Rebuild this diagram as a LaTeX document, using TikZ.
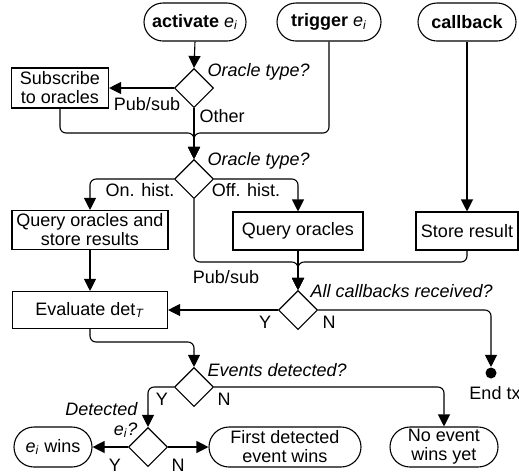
\documentclass[tikz,border=0pt]{standalone}
\usepackage{fontspec}
\setmainfont{Liberation Sans}
\usetikzlibrary{shapes.geometric,shapes.misc,arrows.meta}
\begin{document}
\begin{tikzpicture}[x=0.5pt,y=-0.5pt,line width=0.55pt,
  font=\fontsize{9}{9.5}\selectfont,
  term/.style={rounded rectangle, draw, minimum height=19pt, inner sep=1pt, align=center},
  proc/.style={rectangle, draw, minimum height=19pt, inner sep=1pt, align=center},
  dec/.style={diamond, draw, minimum width=19.5pt, minimum height=19.5pt, inner sep=0pt},
  arr/.style={-{Triangle[length=6pt,width=6pt]}},
  conn/.style={rounded corners=3pt},
  lab/.style={inner sep=0pt},
  q/.style={lab, font=\fontsize{9}{9.5}\selectfont\itshape, anchor=west},
]
\useasboundingbox (0,0) rectangle (519,473);
% terminals
\node[term, minimum width=53pt] (act) at (195,22) {\textbf{activate} \textit{e}\textsubscript{\textit{i}}};
\node[term, minimum width=54pt] (trig) at (329,22) {\textbf{trigger} \textit{e}\textsubscript{\textit{i}}};
\node[term, minimum width=51pt] (cb) at (467,22) {\textbf{callback}};
% decisions
\node[dec] (d1) at (194,88) {};
\node[dec] (d2) at (194,179) {};
\node[dec] (d3) at (298,310) {};
\node[dec] (d4) at (194,387) {};
\node[dec] (d5) at (148,447) {};
% processes
\node[proc, minimum width=48.5pt, minimum height=20pt] (sub) at (60,88) {Subscribe\\to oracles};
\node[proc, minimum width=78pt, minimum height=19.5pt] (qs) at (90,230) {Query oracles and\\store results};
\node[proc, minimum width=65pt] (qo) at (298,231) {Query oracles};
\node[proc, minimum width=51pt] (sr) at (467,231) {Store result};
\node[proc, minimum width=77.5pt, minimum height=18.5pt] (ev) at (90,310) {Evaluate det\textsubscript{\textit{T}}};
\node[circle, fill, inner sep=0pt, minimum size=5.5pt] (end) at (491,373) {};
% outcomes
\node[term, minimum width=41pt, minimum height=20pt] (win) at (53,447) {\textit{e}\textsubscript{\textit{i}} wins};
\node[term, minimum width=78pt, minimum height=20pt] (first) at (285,447) {First detected\\event wins};
\node[term, minimum width=56pt, minimum height=20pt] (noev) at (444,447) {No event\\wins yet};
% merge points
\coordinate (m1) at (194,133);
\coordinate (m2) at (298,262);
\coordinate (m3) at (194,342);
% connectors
\draw[arr] (act.south) -- (d1.north);
\draw[arr] (d1.west) -- (sub.east);
\draw[arr] (d1.south) -- (d2.north);
\draw[arr,conn] (sub.south) |- (m1) -- (d2.north);
\draw[arr,conn] (trig.south) |- (m1) -- (d2.north);
\draw[arr,conn] (d2.west) -| (qs.north);
\draw[arr,conn] (d2.east) -| (qo.north);
\draw[arr,conn] (d2.south) |- (m2) -- (d3.north);
\draw[arr] (qo.south) -- (d3.north);
\draw[arr,conn] (sr.south) |- (m2) -- (d3.north);
\draw[arr] (cb.south) -- (sr.north);
\draw[arr] (qs.south) -- (ev.north);
\draw[arr] (d3.west) -- (ev.east);
\draw[arr,conn] (d3.east) -| (end.north);
\draw[arr,conn] (ev.south) |- (m3) -- (d4.north);
\draw[arr,conn] (d4.west) -| (d5.north);
\draw[arr,conn] (d4.east) -| (noev.north);
\draw[arr] (d5.west) -- (win.east);
\draw[arr] (d5.east) -- (first.west);
% labels
\node[q] (l1) at (207,72) {Oracle type?};
\node[q] (l2) at (207,161) {Oracle type?};
\node[q] (l3) at (310,291) {All callbacks received?};
\node[q] (l4) at (207,370) {Events detected?};
\node[lab, font=\fontsize{9}{10}\selectfont\itshape, align=right, anchor=east] (l5) at (138,420) {Detected\\\textit{e}\textsubscript{\textit{i}}?};
\node[lab] (t1) at (147,104) {Pub/sub};
\node[lab, anchor=west] (t2) at (199,116) {Other};
\node[lab] (t3) at (140,190) {On. hist.};
\node[lab] (t4) at (246,190) {Off. hist.};
\node[lab] (t5) at (226,277) {Pub/sub};
\node[lab] (t6) at (265,322) {Y};
\node[lab] (t7) at (329,322) {N};
\node[lab] (t8) at (495,393) {End tx};
\node[lab] (t9) at (162,399) {Y};
\node[lab] (t10) at (224,399) {N};
\node[lab] (t11) at (115,465) {Y};
\node[lab] (t12) at (178,465) {N};
\end{tikzpicture}
\end{document}
